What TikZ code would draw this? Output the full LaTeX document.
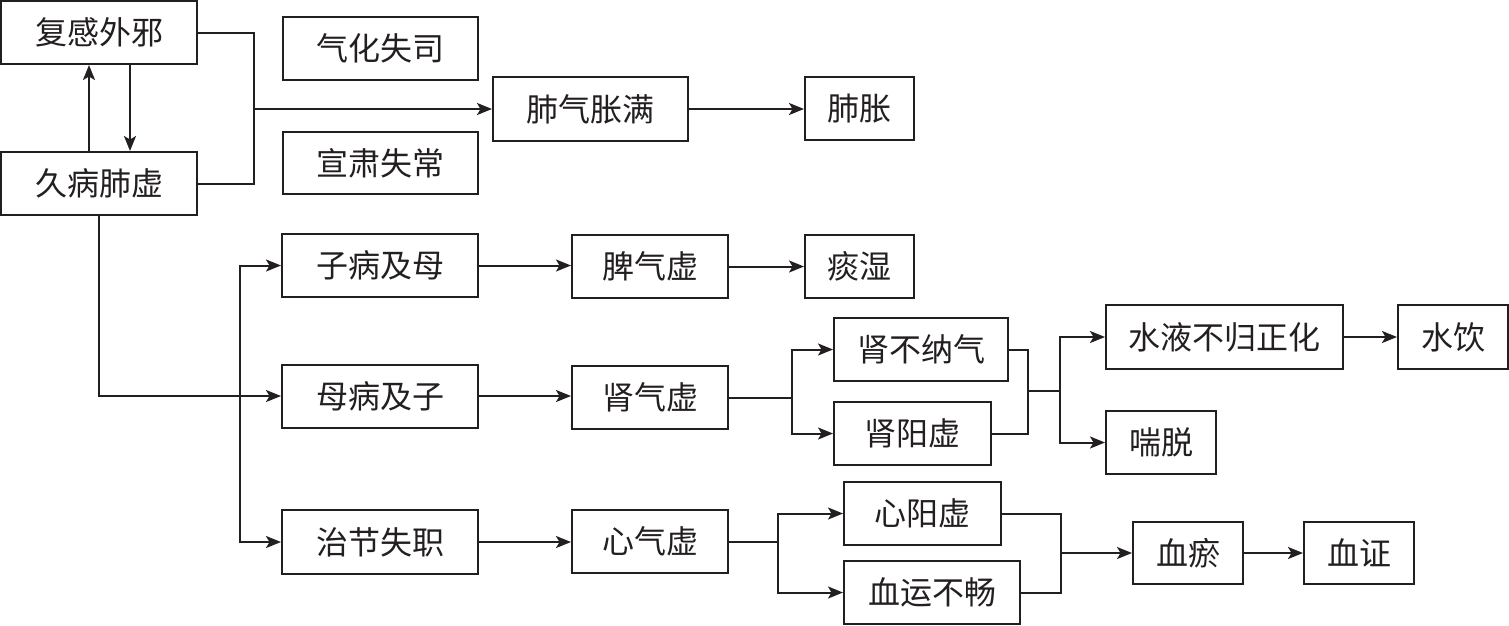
\documentclass[tikz,border=0pt]{standalone}
\usepackage{fontspec}
\newfontfamily\cjk{Noto Sans CJK SC}
\usetikzlibrary{arrows.meta,calc}
\definecolor{ink}{HTML}{231F20}
\tikzset{
  box/.style={draw=ink, line width=2pt, inner sep=0pt, align=center,
    font=\cjk\fontsize{32}{36}\selectfont, text=ink},
  link/.style={draw=ink, line width=2pt},
  arr/.style={link, -{Stealth[length=15pt,width=12pt,inset=3.5pt]}},
}
\newcommand{\bx}[6]{\node[box, minimum width=#4pt, minimum height=#5pt] (#1) at (#2,#3) {#6};}
\begin{document}
\begin{tikzpicture}[x=1pt,y=-1pt]
\useasboundingbox (0,0) rectangle (1509,625);
\bx{a}{99}{32.5}{196}{63}{复感外邪}
\bx{b}{99}{183.5}{196}{63}{久病肺虚}
\bx{c}{380.5}{48.5}{195}{63}{气化失司}
\bx{d}{380.5}{163}{195}{62}{宣肃失常}
\bx{e}{590.5}{109}{195}{64}{肺气胀满}
\bx{f}{859.5}{108.5}{109}{63}{肺胀}
\bx{g}{380}{265.5}{196}{63}{子病及母}
\bx{h}{650}{266.5}{156}{63}{脾气虚}
\bx{i}{859.5}{266.5}{109}{63}{痰湿}
\bx{j}{380}{396}{196}{63}{母病及子}
\bx{k}{650}{397.5}{156}{63}{肾气虚}
\bx{l}{380}{542}{196}{64}{治节失职}
\bx{m}{650}{541.5}{156}{63}{心气虚}
\bx{n}{921}{349.5}{174}{63}{肾不纳气}
\bx{o}{912.5}{433.5}{157}{63}{肾阳虚}
\bx{p}{1224.5}{337}{237}{64}{水液不归正化}
\bx{q}{1453}{337}{110}{64}{水饮}
\bx{r}{1161}{442.5}{110}{63}{喘脱}
\bx{s}{922.5}{513.5}{157}{63}{心阳虚}
\bx{t}{932}{592.5}{176}{63}{血运不畅}
\bx{u}{1188}{553}{110}{62}{血瘀}
\bx{v}{1359}{553}{110}{62}{血证}
% top feedback loop
\draw[arr] ([xshift=31pt]a.south) -- ([xshift=31pt]b.north);
\draw[arr] ([xshift=-10pt]b.north) -- ([xshift=-10pt]a.south);
\coordinate (m1) at (254,109);
\draw[link] (a.east) -| (m1);
\draw[link] (b.east) -| (m1);
\draw[arr] (m1) -- (e.west);
\draw[arr] (e.east) -- (e.east -| f.west);
% left trunk
\draw[arr] (b.south) |- (j.west);
\coordinate (br1) at (240,396);
\draw[arr] (br1) |- (g.west);
\draw[arr] (br1) |- (l.west);
\draw[arr] (g.east) -- (g.east -| h.west);
\draw[arr] (h.east) -- (h.east -| i.west);
\draw[arr] (j.east) -- (j.east -| k.west);
\draw[arr] (l.east) -- (l.east -| m.west);
% kidney branch
\coordinate (br2) at (792,397.5);
\draw[link] (k.east) -- (br2);
\draw[arr] (br2) |- (n.west);
\draw[arr] (br2) |- (o.west);
\coordinate (m2) at (1028,391);
\coordinate (br3) at (1060,391);
\draw[link] (n.east) -| (m2);
\draw[link] (o.east) -| (m2);
\draw[link] (m2) -- (br3);
\draw[arr] (br3) |- (p.west);
\draw[arr] (br3) |- (r.west);
\draw[arr] (p) -- (q);
% heart branch
\coordinate (br4) at (778,541.5);
\draw[link] (m.east) -- (br4);
\draw[arr] (br4) |- (s.west);
\draw[arr] (br4) |- (t.west);
\coordinate (m3) at (1061,553);
\draw[link] (s.east) -| (m3);
\draw[link] (t.east) -| (m3);
\draw[arr] (m3) -- (u.west);
\draw[arr] (u) -- (v);
\end{tikzpicture}
\end{document}
